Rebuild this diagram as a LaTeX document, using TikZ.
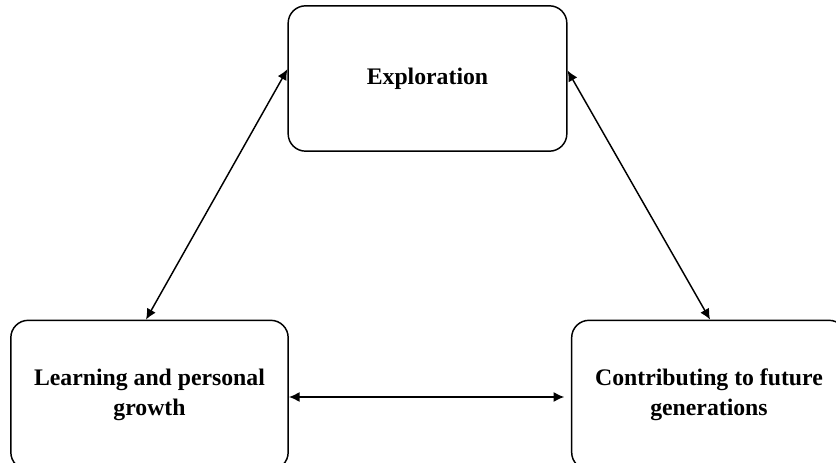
\documentclass[tikz,border=0pt]{standalone}
\usepackage{fontspec}
\setmainfont{Liberation Serif}
\usetikzlibrary{arrows.meta}

\begin{document}
\begin{tikzpicture}[x=0.75pt,y=0.75pt,yscale=-1,
  stage/.style={draw,line width=1.1pt,rounded corners=13pt,align=center,
    font=\fontsize{17.8}{22.5}\selectfont\bfseries,inner sep=0pt},
  link/.style={line width=1.1pt,{Latex[length=8pt,width=7.5pt]}-{Latex[length=8pt,width=7.5pt]}}]
%set diagram left start at 0, and has height of 463
\useasboundingbox (0,0) rectangle (836,463);

% Text Node
\node [stage,minimum width=209pt,minimum height=109pt] (explore) at (427.5,78.5) {Exploration};
% Text Node
\node [stage,minimum width=208pt,minimum height=112pt] (learn) at (149.5,395) {Learning and personal\\growth};
% Text Node
\node [stage,minimum width=206pt,minimum height=112pt] (future) at (709,395) {Contributing to future\\generations};

%Straight Lines
\draw [link] ([yshift=-7pt]explore.west) -- ([xshift=-2.6pt]learn.north);
%Straight Lines
\draw [link] ([yshift=-6pt]explore.east) -- ([xshift=0.8pt]future.north);
%Straight Lines
\draw [link,shorten >=5pt] ([yshift=1.5pt]learn.east) -- ([yshift=1.5pt]future.west);

\end{tikzpicture}
\end{document}
